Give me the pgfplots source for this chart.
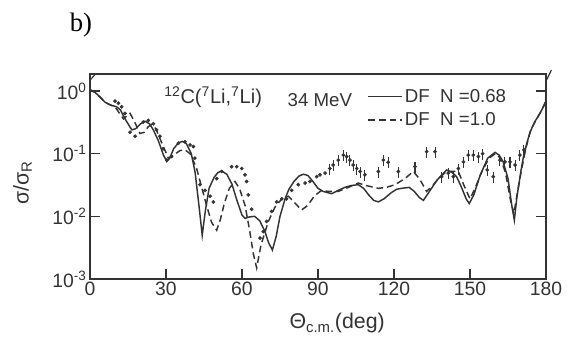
\documentclass[border=0pt]{standalone}
\usepackage{fontspec}
\setmainfont{Liberation Sans}
\newfontfamily\seriffont{Liberation Serif}
\usepackage{pgfplots}
\pgfplotsset{compat=1.18}
\definecolor{ink}{gray}{0.2}
\begin{document}
\begin{tikzpicture}
\begin{axis}[
  scale only axis, width=342pt, height=153.75pt,
  xmin=0, xmax=180, ymode=log, ymin=1e-3, ymax=1.87,
  axis line style={ink, line width=1pt},
  xtick={0,30,60,90,120,150,180},
  xtick pos=bottom, ytick pos=both,
  ytick={0.001,0.01,0.1,1},
  yticklabels={10\textsuperscript{-3},10\textsuperscript{-2},10\textsuperscript{-1},10\textsuperscript{0}},
  minor tick num=0, yminorticks=false,
  tick align=inside, major tick length=7.5pt,
  tick style={ink, line width=0.9pt},
  /pgf/number format/assume math mode=true,
  ticklabel style={font=\fontsize{14.5}{16}\selectfont, text=ink},
  xticklabel style={yshift=1pt},
  yticklabel style={xshift=1pt},
  xlabel={Θ\textsubscript{c.m.}(deg)},
  ylabel={σ/σ\textsubscript{R}},
  xlabel style={at={(axis description cs:0.542,-0.215)}, anchor=center, font=\fontsize{16}{18}\selectfont, text=ink},
  ylabel style={at={(axis description cs:-0.148,0.468)}, anchor=center, font=\fontsize{16}{18}\selectfont, text=ink},
  clip mode=individual,
  legend style={draw=none, fill=none, at={(rel axis cs:0.608,0.94)}, anchor=north west,
    font=\fontsize{14}{16}\selectfont, text=ink, row sep=2pt, inner sep=0pt,
    /tikz/every even column/.append style={column sep=3pt}},
  legend cell align=left,
  legend image code/.code={\draw[#1] (0pt,0pt) -- (25pt,0pt);},
]
\addplot[ink, line width=1.1pt] coordinates {
(0,1.05) (2,0.95) (4,0.8) (6,0.66) (8,0.6) (10.5,0.56) (12,0.5) (14,0.35) (16.5,0.24) (18,0.25) (20,0.30) (21.7,0.33) (23.5,0.30) (25,0.24) (27,0.16) (29,0.095) (30.3,0.075) (31.5,0.085) (33,0.12) (35,0.15) (36.5,0.157) (38,0.145) (40,0.10) (41.5,0.05) (43,0.015) (44.3,0.005) (45.5,0.012) (47,0.028) (49,0.042) (50.5,0.05) (52,0.053) (54,0.047) (56,0.033) (58,0.018) (60,0.0105) (61.2,0.0093) (63,0.0098) (65,0.01) (67,0.0085) (69,0.0058) (70.5,0.0038) (72,0.0029) (73.5,0.0048) (75,0.010) (77,0.019) (78.5,0.027) (80.5,0.036) (82.5,0.044) (84.2,0.047) (86,0.045) (88,0.036) (90,0.028) (92,0.025) (95.4,0.023) (98,0.026) (100.6,0.029) (103,0.031) (105.9,0.032) (108,0.028) (110,0.022) (112,0.018) (113.8,0.017) (116,0.019) (119,0.024) (121,0.027) (123,0.028) (126,0.029) (128,0.025) (130,0.02) (131.6,0.018) (134,0.025) (137,0.038) (140.8,0.055) (143,0.05) (144.7,0.043) (146.5,0.03) (148.5,0.019) (149.7,0.016) (151.5,0.022) (154,0.045) (157,0.085) (159.9,0.105) (161.5,0.095) (163.1,0.074) (165,0.04) (166.5,0.015) (167.5,0.0087) (168.5,0.02) (170,0.05) (171,0.085) (172.5,0.15) (173.7,0.22) (175.5,0.32) (177.6,0.44) (180,0.67)
};
\addlegendentry{DF\ \ N =0.68}
\addplot[ink, line width=1.1pt, dash pattern=on 5pt off 3pt] coordinates {
(0,1.05) (2,0.95) (4,0.8) (6,0.66) (8,0.6) (10,0.55) (11.5,0.45) (13.2,0.36) (14.5,0.40) (15.8,0.44) (17.5,0.33) (19.7,0.21) (21.5,0.22) (23,0.27) (24.3,0.29) (26,0.25) (28,0.16) (30.9,0.085) (33,0.095) (35.5,0.112) (37.5,0.115) (39.5,0.1) (42,0.06) (44,0.03) (46,0.015) (48,0.008) (50,0.006) (51.5,0.009) (53,0.016) (55,0.028) (57.2,0.036) (59,0.028) (61.2,0.015) (63,0.006) (64.5,0.0025) (65.8,0.0015) (67.5,0.0035) (70.4,0.0083) (73,0.014) (75.7,0.019) (78.3,0.021) (80.5,0.017) (83.5,0.0126) (86,0.015) (88.5,0.021) (91.4,0.026) (94,0.025) (98,0.025) (102,0.029) (105.9,0.034) (109,0.031) (113.8,0.028) (117,0.029) (120.4,0.032) (124.3,0.04) (127.6,0.052) (130,0.04) (132.9,0.025) (135,0.03) (138,0.042) (140.8,0.052) (145.4,0.052) (147.5,0.032) (150,0.019) (152,0.028) (154.5,0.05) (157.5,0.085) (160,0.10) (162,0.085) (164,0.05) (166,0.018) (167.3,0.011) (168.8,0.025) (170.5,0.06) (172,0.12) (174,0.24) (176,0.34) (178,0.47) (180,0.7)
};
\addlegendentry{DF\ \ N =1.0}
\addplot[only marks, mark=*, mark size=1.2pt, ink, forget plot] coordinates {
(9.9,0.69) (11.2,0.64) (12.5,0.56) (13.8,0.44) (15.8,0.22) (17.8,0.19) (21,0.32) (23,0.34) (25,0.30) (26.3,0.24) (27.6,0.19) (28.9,0.12) (30.3,0.079) (32.2,0.09) (34.9,0.147) (37.5,0.155) (39.5,0.138) (40.8,0.13) (41.4,0.085) (43.4,0.032) (45.4,0.026) (47.4,0.021) (48.7,0.017) (50,0.04) (52,0.052) (55.9,0.062) (57.9,0.062) (59.9,0.058) (61.2,0.046) (61.8,0.036) (62.5,0.022) (63.8,0.013) (67.1,0.0045) (68.4,0.0057) (69.7,0.0083) (71.7,0.012) (73.7,0.017) (75.7,0.019) (77.6,0.019) (79.6,0.026) (82.2,0.032) (84.9,0.034) (86.8,0.036) (89.5,0.043) (90.8,0.046) (92.8,0.049)
};
\addplot[only marks, mark=*, mark size=1.2pt, ink, forget plot,
  error bars/.cd, y dir=both, y explicit relative, error mark=none,
  error bar style={ink, line width=0.8pt}] coordinates {
(94.7,0.058) +- (0,0.2) (96,0.066) +- (0,0.2) (98,0.079) +- (0,0.2) (100,0.095) +- (0,0.2) (101.3,0.09) +- (0,0.2) (102.6,0.079) +- (0,0.2) (103.9,0.066) +- (0,0.2) (105.3,0.058) +- (0,0.2) (106.6,0.052) +- (0,0.2) (108.5,0.046) +- (0,0.2) (113.8,0.052) +- (0,0.2) (115.8,0.079) +- (0,0.2) (117.7,0.073) +- (0,0.2) (121.7,0.052) +- (0,0.2) (128.3,0.062) +- (0,0.2) (132.9,0.108) +- (0,0.2) (136.2,0.108) +- (0,0.2) (138.8,0.043) +- (0,0.2) (141.4,0.049) +- (0,0.2) (143.4,0.043) +- (0,0.2) (145.4,0.058) +- (0,0.2) (147.4,0.074) +- (0,0.2) (149.3,0.095) +- (0,0.2) (151.3,0.095) +- (0,0.2) (153.3,0.09) +- (0,0.2) (155,0.1) +- (0,0.2) (156.8,0.055) +- (0,0.2) (159.2,0.043) +- (0,0.2) (161.8,0.079) +- (0,0.2) (163.8,0.074) +- (0,0.2) (165.8,0.074) +- (0,0.2) (167.8,0.066) +- (0,0.2) (169.7,0.095) +- (0,0.2) (171.3,0.115) +- (0,0.2)
};
\node[font=\fontsize{15}{17}\selectfont, text=ink] at (rel axis cs:0.27,0.888) {\textsuperscript{12}C(\textsuperscript{7}Li,\textsuperscript{7}Li)};
\node[font=\fontsize{14}{16}\selectfont, text=ink] at (rel axis cs:0.504,0.873) {34 MeV};
\node[font=\seriffont\fontsize{20}{22}\selectfont] at (rel axis cs:-0.02,1.239) {b)};
\draw[ink, line width=0.9pt] (rel axis cs:1,0.965) -- (rel axis cs:1.012,1.02);
\draw[ink, line width=0.9pt] (rel axis cs:0,0.97) -- (rel axis cs:0.012,1.0);
\end{axis}
\pgfresetboundingbox
\path[use as bounding box] ([shift={(-67.5pt,-45.75pt)}]current axis.south west) rectangle ++(426.75pt,255pt);
\end{tikzpicture}
\end{document}
